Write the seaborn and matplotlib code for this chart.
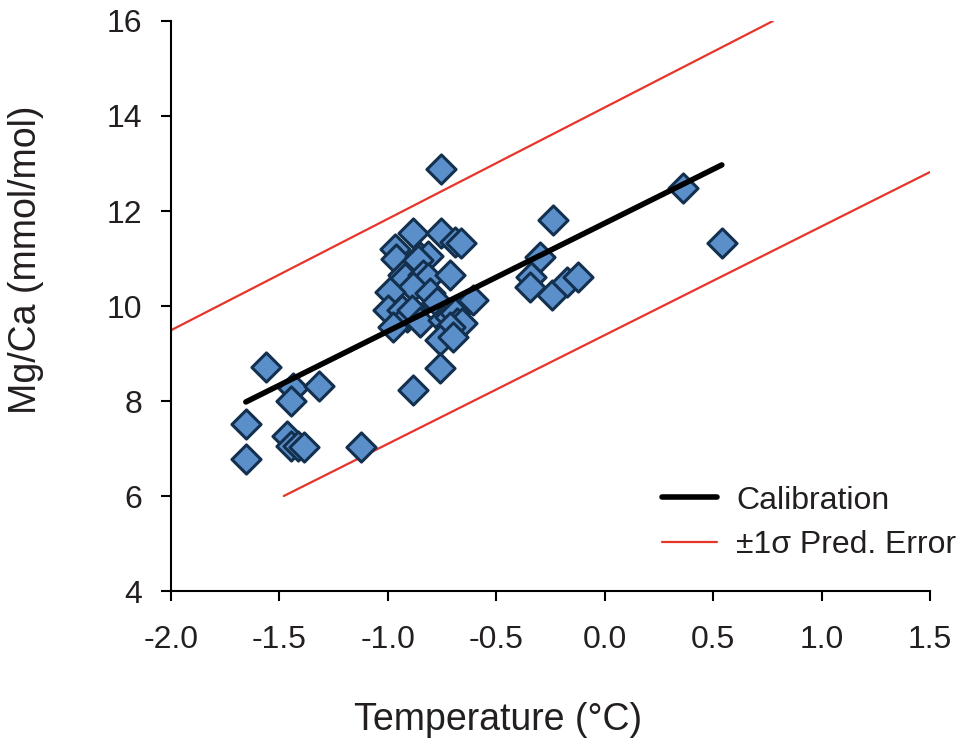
import numpy as np
import pandas as pd
import matplotlib
matplotlib.use("Agg")
import matplotlib.pyplot as plt
import seaborn as sns

temp = [-1.656, -1.653, -1.563, -1.436, -1.447, -1.316, -1.467, -1.448, -1.416, -1.385,
        -1.125, -0.755, -0.882, -0.755, -0.690, -0.664, -0.967, -0.964, -0.852, -0.816,
        -0.860, -0.929, -0.921, -0.837, -0.814, -0.713, -0.882, -0.990, -0.806, -0.775,
        -0.606, -0.998, -0.936, -0.913, -0.890, -0.975, -0.852, -0.744, -0.713, -0.690,
        -0.683, -0.660, -0.713, -0.760, -0.698, -0.760, -0.886, 0.359, 0.539, -0.237,
        -0.298, -0.341, -0.345, -0.245, -0.176, -0.122]
mgca = [7.51, 6.77, 8.72, 8.27, 7.99, 8.32, 7.27, 7.05, 7.05, 7.04,
        7.03, 12.88, 11.53, 11.53, 11.35, 11.32, 11.20, 10.99, 11.04, 11.05,
        10.97, 10.65, 10.60, 10.65, 10.58, 10.65, 10.41, 10.30, 10.27, 10.09,
        10.13, 9.92, 9.92, 9.77, 9.92, 9.56, 9.67, 9.71, 9.77, 9.85,
        9.64, 9.64, 9.56, 9.28, 9.35, 8.69, 8.23, 12.48, 11.32, 11.81,
        11.04, 10.62, 10.41, 10.23, 10.51, 10.62]

# calibration fit and +/-1 sigma prediction error lines (endpoints)
calib_x = [-1.655, 0.54]
calib_y = [7.98, 12.97]
upper_x = [-2.0, 0.776]
upper_y = [9.49, 16.0]
lower_x = [-1.48, 1.5]
lower_y = [6.0, 12.82]

sns.set_style("ticks")
plt.rcParams["font.family"] = ["Liberation Sans", "DejaVu Sans"]
plt.rcParams["text.color"] = "#231f20"

fig = plt.figure(figsize=(9.63, 7.42), dpi=100)
ax = fig.add_axes([0.1776, 0.2035, 0.7881, 0.7682])

df = pd.DataFrame({"temp": temp, "mgca": mgca})
sns.scatterplot(data=df, x="temp", y="mgca", marker="D", s=220, color="#5b8fc9",
                edgecolor="#13304f", linewidth=2.2, ax=ax, zorder=3)

sns.lineplot(x=calib_x, y=calib_y, color="black", linewidth=4, ax=ax,
             label="Calibration", zorder=4)
sns.lineplot(x=upper_x, y=upper_y, color="#e8352a", linewidth=1.6, ax=ax,
             label="\u00b11\u03c3 Pred. Error", zorder=2)
sns.lineplot(x=lower_x, y=lower_y, color="#e8352a", linewidth=1.6, ax=ax, zorder=2)

ax.set_xlim(-2.0, 1.5)
ax.set_ylim(4, 16)
ax.set_xticks(np.arange(-2.0, 1.51, 0.5))
ax.set_xticklabels([f"{v:.1f}" for v in np.arange(-2.0, 1.51, 0.5)])
ax.set_yticks(range(4, 17, 2))
ax.tick_params(axis="both", labelsize=23, length=7.5, width=1.5, direction="out",
               color="black", labelcolor="#231f20")
ax.tick_params(axis="x", pad=17)
ax.tick_params(axis="y", pad=13)
for s in ["left", "bottom"]:
    ax.spines[s].set_linewidth(1.5)
    ax.spines[s].set_color("black")
sns.despine(ax=ax)

ax.set_xlabel("Temperature (\u00b0C)", fontsize=27, color="#231f20")
ax.set_ylabel("Mg/Ca (mmol/mol)", fontsize=27, color="#231f20")
ax.xaxis.set_label_coords(0.431, -0.195)
ax.yaxis.set_label_coords(-0.167, 0.581)

leg = ax.legend(loc="lower right", frameon=False, fontsize=23, handlelength=1.72,
                handletextpad=0.6, bbox_to_anchor=(1.073, 0.004), labelspacing=0.45)

fig.savefig("out.png", dpi=100)
